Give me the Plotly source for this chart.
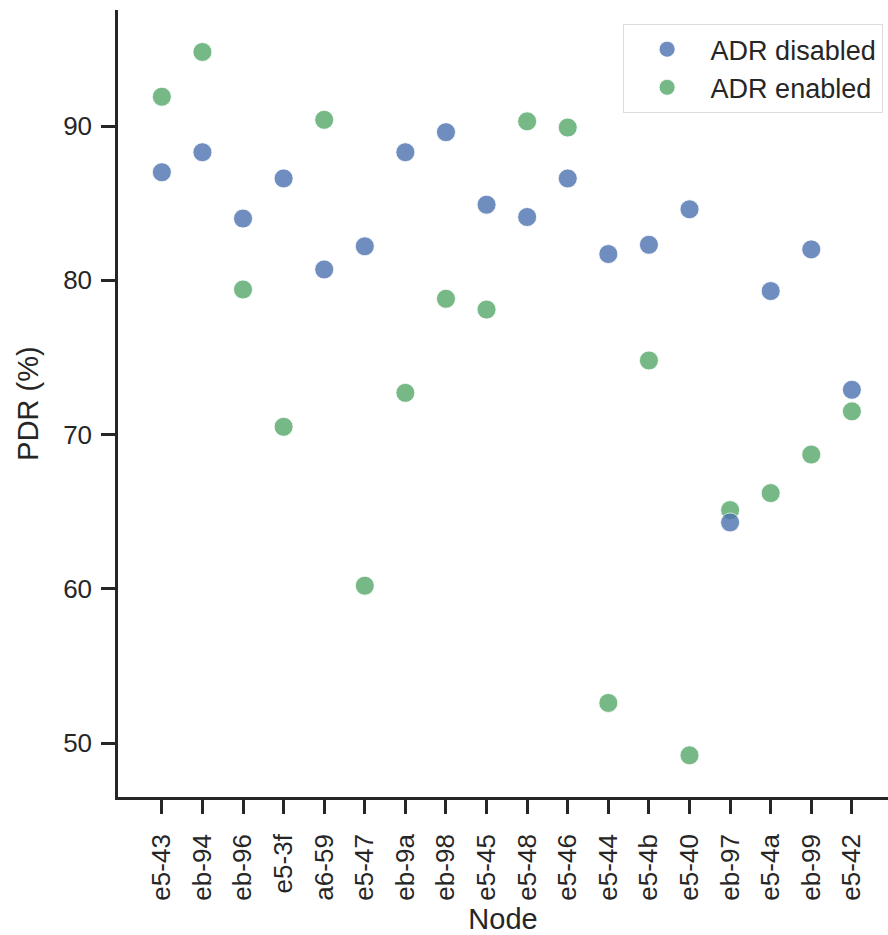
import plotly.graph_objects as go

nodes = ["e5-43", "eb-94", "eb-96", "e5-3f", "a6-59", "e5-47", "eb-9a", "eb-98", "e5-45",
         "e5-48", "e5-46", "e5-44", "e5-4b", "e5-40", "eb-97", "e5-4a", "eb-99", "e5-42"]
pdr_adr_disabled = [87.0, 88.3, 84.0, 86.6, 80.7, 82.2, 88.3, 89.6, 84.9,
                    84.1, 86.6, 81.7, 82.3, 84.6, 64.3, 79.3, 82.0, 72.9]
pdr_adr_enabled = [91.9, 94.8, 79.4, 70.5, 90.4, 60.2, 72.7, 78.8, 78.1,
                   90.3, 89.9, 52.6, 74.8, 49.2, 65.1, 66.2, 68.7, 71.5]
y_ticks = [50, 60, 70, 80, 90]

FONT = "Liberation Sans, Arial, sans-serif"
INK = "#262626"
TICK_SIZE = 26
TITLE_SIZE = 29

fig = go.Figure()
fig.add_trace(go.Scatter(
    x=nodes, y=pdr_adr_enabled, mode="markers", name="ADR enabled", legendrank=2,
    marker=dict(color="#55a868", size=19, opacity=0.8, line=dict(color="white", width=0.8)),
))
fig.add_trace(go.Scatter(
    x=nodes, y=pdr_adr_disabled, mode="markers", name="ADR disabled", legendrank=1,
    marker=dict(color="#4c72b0", size=19, opacity=0.8, line=dict(color="white", width=0.8)),
))

fig.update_layout(
    width=888, height=935,
    margin=dict(l=118, r=0, t=10, b=138),
    paper_bgcolor="white", plot_bgcolor="white",
    font=dict(family=FONT, size=TICK_SIZE, color=INK),
    showlegend=True,
    legend=dict(
        x=0.993, y=0.982, xanchor="right", yanchor="top",
        bgcolor="rgba(255,255,255,0.8)", bordercolor="#dcdcdc", borderwidth=1,
        font=dict(family=FONT, size=27, color=INK),
        itemsizing="trace", itemwidth=77,
    ),
    xaxis=dict(
        type="category", categoryorder="array", categoryarray=nodes,
        range=[-1.08, 17.89],
        showline=True, linecolor=INK, linewidth=2.5,
        ticks="outside", ticklen=14, tickwidth=2.5, tickcolor=INK,
        tickangle=-90, tickfont=dict(family=FONT, size=TICK_SIZE, color=INK),
        ticklabelstandoff=10,
        showgrid=False, zeroline=False,
        title=dict(text="Node", font=dict(family=FONT, size=TITLE_SIZE, color=INK), standoff=10),
    ),
    yaxis=dict(
        range=[46.5, 97.52],
        tickvals=y_ticks,
        showline=True, linecolor=INK, linewidth=2.5,
        ticks="outside", ticklen=14, tickwidth=2.5, tickcolor=INK,
        tickfont=dict(family=FONT, size=TICK_SIZE, color=INK),
        ticklabelstandoff=4,
        showgrid=False, zeroline=False,
        title=dict(text="PDR (%)", font=dict(family=FONT, size=TITLE_SIZE, color=INK), standoff=16),
    ),
)

fig.write_html("out.html")
